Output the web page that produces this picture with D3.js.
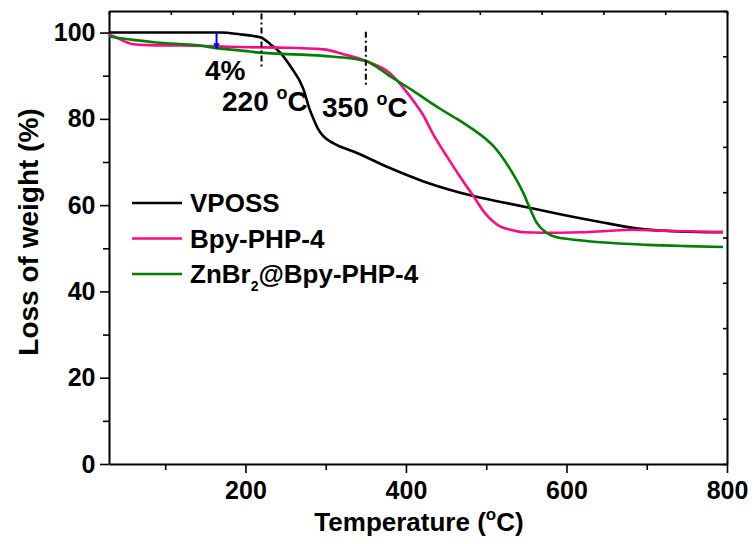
<!DOCTYPE html>
<html>
<head>
<meta charset="utf-8">
<script src="https://cdn.jsdelivr.net/npm/d3@7"></script>
<style>
  body { margin: 0; background: #fff; }
  svg text { font-family: "Liberation Sans", Arial, sans-serif; font-weight: bold; fill: #000; }
</style>
</head>
<body>
<svg id="chart" width="755" height="544"></svg>
<script>
// TGA curves: temperature (C) and remaining weight (%)
const vpossT = [30, 60, 100, 150, 170, 193, 210, 220, 231, 243, 256, 272, 280, 285, 291, 297, 310, 339, 380, 422, 484, 546, 592, 642, 692, 740, 795];
const vpossW = [100, 100, 100, 100, 100, 99.6, 99.2, 98.8, 97.3, 95.4, 92.2, 87.0, 82.2, 79.9, 77.5, 76.0, 74.3, 72.1, 68.6, 65.5, 62.1, 59.7, 57.9, 56.1, 54.5, 53.9, 53.7];

const bpyT = [30, 40, 50, 60, 80, 120, 164, 205, 243, 297, 322, 350, 380, 401, 413, 421, 434, 451, 467, 484, 500, 517, 533, 546, 570, 592, 620, 650, 682, 720, 760, 795];
const bpyW = [99.6, 98.8, 97.9, 97.3, 97.1, 97.0, 96.8, 96.6, 96.5, 96.1, 95.0, 93.4, 90.6, 86.2, 83.2, 81.0, 76.4, 71.3, 66.7, 62.1, 57.8, 55.1, 54.2, 53.7, 53.6, 53.6, 53.7, 54.0, 54.3, 54.1, 53.9, 53.8];

const znT = [30, 60, 89, 143, 164, 206, 214, 297, 339, 350, 380, 409, 442, 467, 484, 501, 509, 530, 546, 555, 563, 575, 592, 600, 642, 700, 750, 795];
const znW = [99.1, 98.3, 97.7, 97.0, 96.4, 95.6, 95.4, 94.6, 93.8, 93.4, 89.9, 86.5, 82.4, 79.6, 77.5, 75.1, 73.7, 68.3, 62.9, 59.0, 55.9, 53.6, 52.4, 52.2, 51.4, 50.8, 50.5, 50.3];

const seriesNames = ["VPOSS", "Bpy-PHP-4", "ZnBr2@Bpy-PHP-4"];
const seriesColors = ["#000000", "#ff0a84", "#008000"];

const xTicks = [100, 200, 300, 400, 500, 600, 700, 800];
const xLabels = [200, 400, 600, 800];
const yTicks = [0, 10, 20, 30, 40, 50, 60, 70, 80, 90, 100];
const yLabels = [0, 20, 40, 60, 80, 100];

// annotation values
const onsetTemps = [220, 350];
const lossArrow = { t: 164, from: 100, to: 96.2 };

const svg = d3.select("#chart");
const M = { left: 109, right: 727, top: 11, bottom: 464 };

const x = d3.scaleLinear().domain([30, 800]).range([M.left, M.right]);
const y = d3.scaleLinear().domain([0, 105]).range([M.bottom, M.top]);

// frame ticks on top / right are just ten even divisions
const fx = d3.scaleLinear().domain([0, 10]).range([M.left, M.right]);
const fy = d3.scaleLinear().domain([0, 10]).range([M.bottom, M.top]);

// bottom axis
const xAxis = svg.append("g")
  .attr("transform", `translate(0,${M.bottom})`)
  .call(d3.axisBottom(x).tickValues(xTicks).tickSize(8).tickSizeOuter(0)
    .tickFormat(d => xLabels.includes(d) ? d : ""));
xAxis.selectAll(".tick line").attr("y2", d => xLabels.includes(d) ? 9 : 6);

// left axis
const yAxis = svg.append("g")
  .attr("transform", `translate(${M.left},0)`)
  .call(d3.axisLeft(y).tickValues(yTicks).tickSize(8).tickSizeOuter(0)
    .tickFormat(d => yLabels.includes(d) ? d : ""));
yAxis.selectAll(".tick line").attr("x2", d => yLabels.includes(d) ? -9 : -6);

// top and right frame
svg.append("g")
  .attr("transform", `translate(0,${M.top})`)
  .call(d3.axisTop(fx).ticks(10).tickSize(-4).tickSizeOuter(0).tickFormat(""));
svg.append("g")
  .attr("transform", `translate(${M.right},0)`)
  .call(d3.axisRight(fy).ticks(10).tickSize(-4).tickSizeOuter(0).tickFormat(""));

svg.selectAll(".domain").attr("stroke", "#000").attr("stroke-width", 2);
svg.selectAll(".tick line").attr("stroke", "#000").attr("stroke-width", 1.6);
svg.selectAll(".tick text").attr("font-size", 25).style("font-family", "Liberation Sans, Arial, sans-serif").attr("font-weight", "bold");
xAxis.selectAll(".tick text").attr("dy", "0.95em");
yAxis.selectAll(".tick text").attr("dx", "-0.1em");

// curves
const curves = [
  vpossT.map((t, i) => [t, vpossW[i]]),
  bpyT.map((t, i) => [t, bpyW[i]]),
  znT.map((t, i) => [t, znW[i]])
];
const line = d3.line().x(d => x(d[0])).y(d => y(d[1])).curve(d3.curveMonotoneX);
svg.append("g").selectAll("path")
  .data(curves)
  .join("path")
  .attr("d", line)
  .attr("fill", "none")
  .attr("stroke", (d, i) => seriesColors[i])
  .attr("stroke-width", 2.6)
  .attr("stroke-linejoin", "round");

// onset markers
const markerSpans = [[104.4, 91.5], [100.2, 87.2]];
svg.append("g").selectAll("line")
  .data(onsetTemps)
  .join("line")
  .attr("x1", d => x(d)).attr("x2", d => x(d))
  .attr("y1", (d, i) => y(markerSpans[i][0]))
  .attr("y2", (d, i) => y(markerSpans[i][1]))
  .attr("stroke", "#000")
  .attr("stroke-width", 2)
  .attr("stroke-dasharray", "6,3,2,3");

// 4% arrow
svg.append("defs").append("marker")
  .attr("id", "head")
  .attr("viewBox", "0 0 10 10")
  .attr("refX", 9).attr("refY", 5)
  .attr("markerWidth", 3.2).attr("markerHeight", 3.2)
  .attr("orient", "auto")
  .append("path").attr("d", "M0,0L10,5L0,10Z").attr("fill", "#0000ff");
svg.append("line")
  .attr("x1", x(lossArrow.t)).attr("x2", x(lossArrow.t))
  .attr("y1", y(lossArrow.from)).attr("y2", y(lossArrow.to))
  .attr("stroke", "#0000ff").attr("stroke-width", 2)
  .attr("marker-end", "url(#head)");

// annotation text
const ann = svg.append("g").attr("font-size", 28);
ann.append("text").attr("x", 205).attr("y", 80).text("4%");
const t220 = ann.append("text").attr("x", 222).attr("y", 111);
t220.append("tspan").text("220 ");
t220.append("tspan").attr("font-size", 18).attr("dy", -12).text("o");
t220.append("tspan").attr("dy", 12).text("C");
const t350 = ann.append("text").attr("x", 322).attr("y", 117);
t350.append("tspan").text("350 ");
t350.append("tspan").attr("font-size", 18).attr("dy", -12).text("o");
t350.append("tspan").attr("dy", 12).text("C");

// legend
const legend = svg.append("g").attr("transform", "translate(132,203)");
const rows = legend.selectAll("g")
  .data(seriesNames)
  .join("g")
  .attr("transform", (d, i) => `translate(0,${i * 35.5})`);
rows.append("line")
  .attr("x1", 0).attr("x2", 50)
  .attr("stroke", (d, i) => seriesColors[i])
  .attr("stroke-width", 2.6);
rows.each(function(d) {
  const t = d3.select(this).append("text")
    .attr("x", 58).attr("y", 9).attr("font-size", 26);
  if (d.startsWith("ZnBr2")) {
    t.append("tspan").text("ZnBr");
    t.append("tspan").attr("font-size", 14).attr("dy", 8).text("2");
    t.append("tspan").attr("dy", -8).text("@Bpy-PHP-4");
  } else {
    t.text(d);
  }
});

// axis titles
const xt = svg.append("text")
  .attr("x", (M.left + M.right) / 2 + 1).attr("y", 531)
  .attr("text-anchor", "middle").attr("font-size", 26);
xt.append("tspan").text("Temperature (");
xt.append("tspan").attr("font-size", 17).attr("dy", -11).text("o");
xt.append("tspan").attr("dy", 11).text("C)");

svg.append("text")
  .attr("transform", "translate(38,232) rotate(-90)")
  .attr("text-anchor", "middle").attr("font-size", 28)
  .text("Loss of weight (%)");
</script>
</body>
</html>
